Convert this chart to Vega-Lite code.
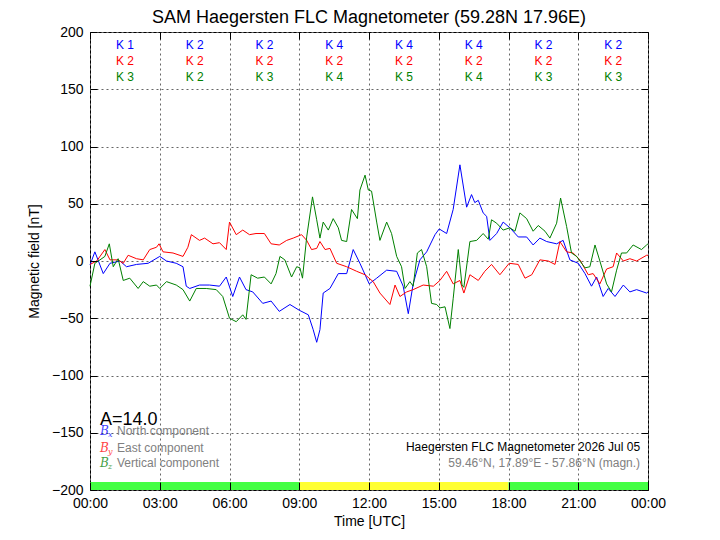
{
  "$schema": "https://vega.github.io/schema/vega-lite/v6.json",
  "width": 558,
  "height": 458,
  "autosize": {"type": "none"},
  "padding": {"left": 90, "top": 32, "right": 72, "bottom": 50},
  "background": "white",
  "config": {
    "font": "Liberation Sans",
    "view": {"stroke": "black", "strokeWidth": 1},
    "axis": {
      "labelFont": "Liberation Sans",
      "labelFontSize": 14,
      "labelColor": "black",
      "labelFlush": false,
      "titleFont": "Liberation Sans",
      "titleFontSize": 14,
      "titleFontWeight": "normal",
      "titleColor": "black",
      "domainColor": "black",
      "tickColor": "black",
      "gridColor": "#666666",
      "gridDash": [2, 3],
      "gridOpacity": 1,
      "gridWidth": 1
    }
  },
  "title": {
    "text": "SAM Haegersten FLC Magnetometer (59.28N 17.96E)",
    "fontSize": 18,
    "fontWeight": "normal",
    "font": "Liberation Sans",
    "color": "black",
    "frame": "group",
    "anchor": "middle",
    "offset": -2
  },
  "datasets": {
    "band": [
      {"h0": 0, "h1": 9, "period": "night"},
      {"h0": 9, "h1": 18, "period": "day"},
      {"h0": 18, "h1": 24, "period": "night"}
    ],
    "klab": [
      {"h": 1.5, "c": "X", "v": 189, "k": "K 1"},
      {"h": 4.5, "c": "X", "v": 189, "k": "K 2"},
      {"h": 7.5, "c": "X", "v": 189, "k": "K 2"},
      {"h": 10.5, "c": "X", "v": 189, "k": "K 4"},
      {"h": 13.5, "c": "X", "v": 189, "k": "K 4"},
      {"h": 16.5, "c": "X", "v": 189, "k": "K 4"},
      {"h": 19.5, "c": "X", "v": 189, "k": "K 2"},
      {"h": 22.5, "c": "X", "v": 189, "k": "K 2"},
      {"h": 1.5, "c": "Y", "v": 175, "k": "K 2"},
      {"h": 4.5, "c": "Y", "v": 175, "k": "K 2"},
      {"h": 7.5, "c": "Y", "v": 175, "k": "K 2"},
      {"h": 10.5, "c": "Y", "v": 175, "k": "K 2"},
      {"h": 13.5, "c": "Y", "v": 175, "k": "K 2"},
      {"h": 16.5, "c": "Y", "v": 175, "k": "K 2"},
      {"h": 19.5, "c": "Y", "v": 175, "k": "K 2"},
      {"h": 22.5, "c": "Y", "v": 175, "k": "K 2"},
      {"h": 1.5, "c": "Z", "v": 161, "k": "K 3"},
      {"h": 4.5, "c": "Z", "v": 161, "k": "K 2"},
      {"h": 7.5, "c": "Z", "v": 161, "k": "K 3"},
      {"h": 10.5, "c": "Z", "v": 161, "k": "K 4"},
      {"h": 13.5, "c": "Z", "v": 161, "k": "K 5"},
      {"h": 16.5, "c": "Z", "v": 161, "k": "K 4"},
      {"h": 19.5, "c": "Z", "v": 161, "k": "K 3"},
      {"h": 22.5, "c": "Z", "v": 161, "k": "K 3"}
    ],
    "leg": [
      {"c": "X", "sub": "x", "lab": "North component", "v": -148.5},
      {"c": "Y", "sub": "y", "lab": "East component", "v": -163},
      {"c": "Z", "sub": "z", "lab": "Vertical component", "v": -176.7}
    ],
    "notes": [
      {"t": "Haegersten FLC Magnetometer 2026 Jul 05", "kind": "main", "v": -162.4},
      {"t": "59.46°N, 17.89°E - 57.86°N (magn.)", "kind": "sub", "v": -176.4}
    ],
    "mag": [
      {"h": 0.0, "c": "X", "v": -3.5}, {"h": 0.21, "c": "X", "v": 8}, {"h": 0.57, "c": "X", "v": -11}, {"h": 0.86, "c": "X", "v": -2},
      {"h": 1.29, "c": "X", "v": 0}, {"h": 1.57, "c": "X", "v": -5}, {"h": 2.0, "c": "X", "v": -3}, {"h": 2.5, "c": "X", "v": -2},
      {"h": 3.0, "c": "X", "v": 4}, {"h": 3.29, "c": "X", "v": 0}, {"h": 3.71, "c": "X", "v": -2}, {"h": 4.0, "c": "X", "v": -5},
      {"h": 4.14, "c": "X", "v": -22}, {"h": 4.29, "c": "X", "v": -24}, {"h": 4.71, "c": "X", "v": -21}, {"h": 5.14, "c": "X", "v": -21},
      {"h": 5.57, "c": "X", "v": -22}, {"h": 5.86, "c": "X", "v": -14}, {"h": 6.14, "c": "X", "v": -31}, {"h": 6.43, "c": "X", "v": -14},
      {"h": 6.71, "c": "X", "v": -25}, {"h": 7.0, "c": "X", "v": -27}, {"h": 7.43, "c": "X", "v": -37}, {"h": 7.79, "c": "X", "v": -35},
      {"h": 8.14, "c": "X", "v": -44}, {"h": 8.6, "c": "X", "v": -38}, {"h": 9.0, "c": "X", "v": -43}, {"h": 9.39, "c": "X", "v": -47},
      {"h": 9.6, "c": "X", "v": -60}, {"h": 9.75, "c": "X", "v": -71}, {"h": 9.89, "c": "X", "v": -60}, {"h": 10.03, "c": "X", "v": -28},
      {"h": 10.32, "c": "X", "v": -24}, {"h": 10.68, "c": "X", "v": -11}, {"h": 11.04, "c": "X", "v": -11}, {"h": 11.32, "c": "X", "v": 10},
      {"h": 11.61, "c": "X", "v": -2}, {"h": 12.01, "c": "X", "v": -20}, {"h": 12.33, "c": "X", "v": -15}, {"h": 12.76, "c": "X", "v": -8},
      {"h": 13.19, "c": "X", "v": -9}, {"h": 13.47, "c": "X", "v": -22}, {"h": 13.69, "c": "X", "v": -46}, {"h": 13.9, "c": "X", "v": -20},
      {"h": 14.19, "c": "X", "v": 1}, {"h": 14.48, "c": "X", "v": 8}, {"h": 14.84, "c": "X", "v": 23}, {"h": 15.02, "c": "X", "v": 28},
      {"h": 15.34, "c": "X", "v": 24}, {"h": 15.62, "c": "X", "v": 45}, {"h": 15.91, "c": "X", "v": 84}, {"h": 16.2, "c": "X", "v": 47},
      {"h": 16.41, "c": "X", "v": 58}, {"h": 16.55, "c": "X", "v": 51}, {"h": 16.7, "c": "X", "v": 53}, {"h": 16.91, "c": "X", "v": 42},
      {"h": 17.06, "c": "X", "v": 39}, {"h": 17.2, "c": "X", "v": 18}, {"h": 17.49, "c": "X", "v": 24}, {"h": 17.77, "c": "X", "v": 34},
      {"h": 18.06, "c": "X", "v": 29}, {"h": 18.42, "c": "X", "v": 21}, {"h": 18.78, "c": "X", "v": 21}, {"h": 19.06, "c": "X", "v": 14},
      {"h": 19.35, "c": "X", "v": 20}, {"h": 19.64, "c": "X", "v": 17}, {"h": 20.07, "c": "X", "v": 15}, {"h": 20.35, "c": "X", "v": 18},
      {"h": 20.64, "c": "X", "v": 1}, {"h": 21.0, "c": "X", "v": -2}, {"h": 21.29, "c": "X", "v": -11}, {"h": 21.57, "c": "X", "v": -22},
      {"h": 21.79, "c": "X", "v": -14}, {"h": 22.07, "c": "X", "v": -31}, {"h": 22.29, "c": "X", "v": -24}, {"h": 22.58, "c": "X", "v": -31},
      {"h": 22.94, "c": "X", "v": -21}, {"h": 23.22, "c": "X", "v": -27}, {"h": 23.51, "c": "X", "v": -25}, {"h": 23.94, "c": "X", "v": -28},
      {"h": 24.0, "c": "X", "v": -27},
      {"h": 0.0, "c": "Y", "v": -3}, {"h": 0.29, "c": "Y", "v": 0}, {"h": 0.64, "c": "Y", "v": 10}, {"h": 0.86, "c": "Y", "v": 1},
      {"h": 1.21, "c": "Y", "v": 1}, {"h": 1.43, "c": "Y", "v": -2}, {"h": 1.64, "c": "Y", "v": 5}, {"h": 2.0, "c": "Y", "v": 2},
      {"h": 2.29, "c": "Y", "v": 1}, {"h": 2.57, "c": "Y", "v": 10}, {"h": 2.86, "c": "Y", "v": 12}, {"h": 2.97, "c": "Y", "v": 15},
      {"h": 3.14, "c": "Y", "v": 8}, {"h": 3.57, "c": "Y", "v": 7}, {"h": 4.0, "c": "Y", "v": 4}, {"h": 4.21, "c": "Y", "v": 12},
      {"h": 4.36, "c": "Y", "v": 23}, {"h": 4.71, "c": "Y", "v": 18}, {"h": 4.93, "c": "Y", "v": 20}, {"h": 5.29, "c": "Y", "v": 15},
      {"h": 5.57, "c": "Y", "v": 16}, {"h": 5.86, "c": "Y", "v": 10}, {"h": 6.0, "c": "Y", "v": 34}, {"h": 6.29, "c": "Y", "v": 23},
      {"h": 6.57, "c": "Y", "v": 27}, {"h": 6.86, "c": "Y", "v": 23}, {"h": 7.14, "c": "Y", "v": 24}, {"h": 7.5, "c": "Y", "v": 24},
      {"h": 7.79, "c": "Y", "v": 15}, {"h": 8.14, "c": "Y", "v": 14}, {"h": 8.46, "c": "Y", "v": 18}, {"h": 8.74, "c": "Y", "v": 20},
      {"h": 9.1, "c": "Y", "v": 23}, {"h": 9.32, "c": "Y", "v": 18}, {"h": 9.53, "c": "Y", "v": 10}, {"h": 9.75, "c": "Y", "v": 11},
      {"h": 9.89, "c": "Y", "v": 17}, {"h": 10.11, "c": "Y", "v": 10}, {"h": 10.32, "c": "Y", "v": 11}, {"h": 10.61, "c": "Y", "v": -2},
      {"h": 11.04, "c": "Y", "v": -5}, {"h": 11.47, "c": "Y", "v": -9}, {"h": 11.83, "c": "Y", "v": -12}, {"h": 12.18, "c": "Y", "v": -18},
      {"h": 12.47, "c": "Y", "v": -28}, {"h": 12.9, "c": "Y", "v": -38}, {"h": 13.12, "c": "Y", "v": -21}, {"h": 13.33, "c": "Y", "v": -31},
      {"h": 13.62, "c": "Y", "v": -27}, {"h": 13.9, "c": "Y", "v": -25}, {"h": 14.33, "c": "Y", "v": -21}, {"h": 14.77, "c": "Y", "v": -22},
      {"h": 15.05, "c": "Y", "v": -17}, {"h": 15.34, "c": "Y", "v": -9}, {"h": 15.62, "c": "Y", "v": -20}, {"h": 15.91, "c": "Y", "v": -17},
      {"h": 16.08, "c": "Y", "v": -28}, {"h": 16.34, "c": "Y", "v": -12}, {"h": 16.7, "c": "Y", "v": -17}, {"h": 16.98, "c": "Y", "v": -9},
      {"h": 17.27, "c": "Y", "v": -3}, {"h": 17.63, "c": "Y", "v": -12}, {"h": 18.03, "c": "Y", "v": -2}, {"h": 18.42, "c": "Y", "v": -3},
      {"h": 18.71, "c": "Y", "v": -15}, {"h": 19.0, "c": "Y", "v": -12}, {"h": 19.35, "c": "Y", "v": 1}, {"h": 19.71, "c": "Y", "v": 0},
      {"h": 20.0, "c": "Y", "v": -3}, {"h": 20.21, "c": "Y", "v": 17}, {"h": 20.5, "c": "Y", "v": 8}, {"h": 20.78, "c": "Y", "v": 7},
      {"h": 21.07, "c": "Y", "v": 1}, {"h": 21.43, "c": "Y", "v": -12}, {"h": 21.64, "c": "Y", "v": -11}, {"h": 21.93, "c": "Y", "v": -20},
      {"h": 22.22, "c": "Y", "v": -7}, {"h": 22.5, "c": "Y", "v": -5}, {"h": 22.65, "c": "Y", "v": 7}, {"h": 22.94, "c": "Y", "v": 0},
      {"h": 23.22, "c": "Y", "v": 2}, {"h": 23.51, "c": "Y", "v": 0}, {"h": 23.94, "c": "Y", "v": 5}, {"h": 24.0, "c": "Y", "v": 5},
      {"h": 0.0, "c": "Z", "v": -22}, {"h": 0.21, "c": "Z", "v": -2}, {"h": 0.43, "c": "Z", "v": 1}, {"h": 0.64, "c": "Z", "v": 4},
      {"h": 0.83, "c": "Z", "v": 15}, {"h": 1.0, "c": "Z", "v": -5}, {"h": 1.21, "c": "Z", "v": 2}, {"h": 1.43, "c": "Z", "v": -17},
      {"h": 1.71, "c": "Z", "v": -15}, {"h": 2.07, "c": "Z", "v": -24}, {"h": 2.29, "c": "Z", "v": -18}, {"h": 2.57, "c": "Z", "v": -22},
      {"h": 2.86, "c": "Z", "v": -21}, {"h": 3.0, "c": "Z", "v": -24}, {"h": 3.29, "c": "Z", "v": -18}, {"h": 3.71, "c": "Z", "v": -21},
      {"h": 4.0, "c": "Z", "v": -25}, {"h": 4.29, "c": "Z", "v": -35}, {"h": 4.57, "c": "Z", "v": -24}, {"h": 5.0, "c": "Z", "v": -24},
      {"h": 5.43, "c": "Z", "v": -25}, {"h": 5.71, "c": "Z", "v": -31}, {"h": 6.0, "c": "Z", "v": -50}, {"h": 6.29, "c": "Z", "v": -53},
      {"h": 6.57, "c": "Z", "v": -47}, {"h": 6.71, "c": "Z", "v": -51}, {"h": 6.93, "c": "Z", "v": -12}, {"h": 7.21, "c": "Z", "v": -15},
      {"h": 7.5, "c": "Z", "v": -14}, {"h": 7.79, "c": "Z", "v": -20}, {"h": 8.0, "c": "Z", "v": -11}, {"h": 8.17, "c": "Z", "v": 4},
      {"h": 8.38, "c": "Z", "v": 1}, {"h": 8.67, "c": "Z", "v": -14}, {"h": 8.89, "c": "Z", "v": -5}, {"h": 9.03, "c": "Z", "v": -6},
      {"h": 9.14, "c": "Z", "v": -15}, {"h": 9.32, "c": "Z", "v": 21}, {"h": 9.57, "c": "Z", "v": 56}, {"h": 9.75, "c": "Z", "v": 36},
      {"h": 9.89, "c": "Z", "v": 20}, {"h": 10.03, "c": "Z", "v": 34}, {"h": 10.25, "c": "Z", "v": 27}, {"h": 10.46, "c": "Z", "v": 37},
      {"h": 10.68, "c": "Z", "v": 29}, {"h": 10.82, "c": "Z", "v": 18}, {"h": 11.04, "c": "Z", "v": 17}, {"h": 11.25, "c": "Z", "v": 45},
      {"h": 11.5, "c": "Z", "v": 37}, {"h": 11.61, "c": "Z", "v": 62}, {"h": 11.83, "c": "Z", "v": 75}, {"h": 11.97, "c": "Z", "v": 62},
      {"h": 12.11, "c": "Z", "v": 61}, {"h": 12.33, "c": "Z", "v": 34}, {"h": 12.47, "c": "Z", "v": 18}, {"h": 12.76, "c": "Z", "v": 34},
      {"h": 12.97, "c": "Z", "v": 24}, {"h": 13.19, "c": "Z", "v": 4}, {"h": 13.4, "c": "Z", "v": -5}, {"h": 13.55, "c": "Z", "v": -24},
      {"h": 13.76, "c": "Z", "v": -18}, {"h": 13.9, "c": "Z", "v": -22}, {"h": 14.08, "c": "Z", "v": 7}, {"h": 14.26, "c": "Z", "v": 10},
      {"h": 14.48, "c": "Z", "v": -5}, {"h": 14.69, "c": "Z", "v": -37}, {"h": 14.91, "c": "Z", "v": -38}, {"h": 15.05, "c": "Z", "v": -41},
      {"h": 15.27, "c": "Z", "v": -40}, {"h": 15.48, "c": "Z", "v": -59}, {"h": 15.62, "c": "Z", "v": -33}, {"h": 15.84, "c": "Z", "v": 10},
      {"h": 16.0, "c": "Z", "v": -21}, {"h": 16.08, "c": "Z", "v": -23}, {"h": 16.34, "c": "Z", "v": 17}, {"h": 16.63, "c": "Z", "v": 18},
      {"h": 16.91, "c": "Z", "v": 24}, {"h": 17.13, "c": "Z", "v": 19}, {"h": 17.27, "c": "Z", "v": 36}, {"h": 17.49, "c": "Z", "v": 33},
      {"h": 17.77, "c": "Z", "v": 27}, {"h": 18.06, "c": "Z", "v": 29}, {"h": 18.28, "c": "Z", "v": 26}, {"h": 18.49, "c": "Z", "v": 42},
      {"h": 18.78, "c": "Z", "v": 37}, {"h": 19.06, "c": "Z", "v": 26}, {"h": 19.28, "c": "Z", "v": 31}, {"h": 19.57, "c": "Z", "v": 26},
      {"h": 19.78, "c": "Z", "v": 20}, {"h": 20.07, "c": "Z", "v": 33}, {"h": 20.24, "c": "Z", "v": 55}, {"h": 20.5, "c": "Z", "v": 30},
      {"h": 20.71, "c": "Z", "v": 7}, {"h": 20.93, "c": "Z", "v": 4}, {"h": 21.29, "c": "Z", "v": -6}, {"h": 21.5, "c": "Z", "v": -5},
      {"h": 21.72, "c": "Z", "v": 14}, {"h": 21.93, "c": "Z", "v": 0}, {"h": 22.22, "c": "Z", "v": -20}, {"h": 22.43, "c": "Z", "v": -27},
      {"h": 22.65, "c": "Z", "v": -8}, {"h": 22.86, "c": "Z", "v": 7}, {"h": 23.08, "c": "Z", "v": 7}, {"h": 23.36, "c": "Z", "v": 14},
      {"h": 23.72, "c": "Z", "v": 10}, {"h": 23.94, "c": "Z", "v": 14}, {"h": 24.0, "c": "Z", "v": 15}
    ]
  },
  "layer": [
    {
      "data": {"name": "mag"},
      "mark": {"type": "line", "strokeWidth": 1, "interpolate": "linear"},
      "encoding": {
        "x": {
          "field": "h", "type": "quantitative",
          "scale": {"domain": [0, 24], "nice": false, "zero": false},
          "axis": {"orient": "top", "values": [0, 3, 6, 9, 12, 15, 18, 21, 24], "labels": false, "title": null, "grid": true, "ticks": true, "tickSize": -7, "domain": false}
        },
        "y": {
          "field": "v", "type": "quantitative",
          "scale": {"domain": [-200, 200], "nice": false, "zero": false},
          "axis": {"orient": "right", "values": [-200, -150, -100, -50, 0, 50, 100, 150, 200], "labels": false, "title": null, "grid": true, "ticks": true, "tickSize": -7, "domain": false}
        },
        "color": {"field": "c", "type": "nominal", "scale": {"domain": ["X", "Y", "Z"], "range": ["#0000ff", "#ff0000", "#008000"]}, "legend": null}
      }
    },
    {
      "data": {"name": "band"},
      "mark": {"type": "rect"},
      "encoding": {
        "x": {
          "field": "h0", "type": "quantitative",
          "axis": {"orient": "bottom", "values": [0, 3, 6, 9, 12, 15, 18, 21, 24], "labelExpr": "(datum.value % 24 < 10 ? '0' : '') + (datum.value % 24) + ':00'", "title": "Time [UTC]", "grid": false, "tickSize": -8, "labelPadding": 14, "titlePadding": 4, "zindex": 1, "domain": false}
        },
        "x2": {"field": "h1"},
        "y": {
          "datum": -200, "type": "quantitative",
          "axis": {"orient": "left", "values": [-200, -150, -100, -50, 0, 50, 100, 150, 200], "title": "Magnetic field [nT]", "grid": false, "tickSize": -7, "labelPadding": 14, "titlePadding": 10, "zindex": 1, "domain": false}
        },
        "y2": {"datum": -193},
        "fill": {"field": "period", "type": "nominal", "scale": {"domain": ["night", "day"], "range": ["#44ff44", "#ffff33"]}, "legend": null}
      }
    },
    {
      "data": {"name": "klab"},
      "mark": {"type": "text", "fontSize": 12, "align": "center", "baseline": "middle"},
      "encoding": {
        "x": {"field": "h", "type": "quantitative", "axis": null},
        "y": {"field": "v", "type": "quantitative", "axis": null},
        "text": {"field": "k"},
        "color": {"field": "c", "type": "nominal", "legend": null}
      }
    },
    {
      "data": {"name": "leg"},
      "mark": {"type": "text", "font": "DejaVu Serif", "fontSize": 12, "fontStyle": "italic", "align": "left", "baseline": "middle", "opacity": 0.75},
      "encoding": {
        "x": {"datum": 0.43, "type": "quantitative", "axis": null},
        "y": {"field": "v", "type": "quantitative", "axis": null},
        "text": {"value": "B"},
        "color": {"field": "c", "type": "nominal", "legend": null}
      }
    },
    {
      "data": {"name": "leg"},
      "mark": {"type": "text", "font": "DejaVu Serif", "fontSize": 8, "fontStyle": "italic", "align": "left", "baseline": "middle", "dx": 8, "dy": 4, "opacity": 0.75},
      "encoding": {
        "x": {"datum": 0.43, "type": "quantitative", "axis": null},
        "y": {"field": "v", "type": "quantitative", "axis": null},
        "text": {"field": "sub"},
        "color": {"field": "c", "type": "nominal", "legend": null}
      }
    },
    {
      "data": {"name": "leg"},
      "mark": {"type": "text", "fontSize": 12, "align": "left", "baseline": "middle", "color": "#808080"},
      "encoding": {
        "x": {"datum": 1.16, "type": "quantitative", "axis": null},
        "y": {"field": "v", "type": "quantitative", "axis": null},
        "text": {"field": "lab"}
      }
    },
    {
      "data": {"values": [{"t": "A=14.0"}]},
      "mark": {"type": "text", "fontSize": 18, "align": "left", "baseline": "middle", "color": "black"},
      "encoding": {
        "x": {"datum": 0.43, "type": "quantitative", "axis": null},
        "y": {"datum": -138.9, "type": "quantitative", "axis": null},
        "text": {"field": "t"}
      }
    },
    {
      "data": {"name": "notes"},
      "transform": [{"filter": "datum.kind == 'main'"}],
      "mark": {"type": "text", "fontSize": 12, "align": "right", "baseline": "middle", "color": "#000000"},
      "encoding": {
        "x": {"datum": 23.66, "type": "quantitative", "axis": null},
        "y": {"field": "v", "type": "quantitative", "axis": null},
        "text": {"field": "t"}
      }
    },
    {
      "data": {"name": "notes"},
      "transform": [{"filter": "datum.kind == 'sub'"}],
      "mark": {"type": "text", "fontSize": 12, "align": "right", "baseline": "middle", "color": "#808080"},
      "encoding": {
        "x": {"datum": 23.66, "type": "quantitative", "axis": null},
        "y": {"field": "v", "type": "quantitative", "axis": null},
        "text": {"field": "t"}
      }
    }
  ],
  "resolve": {"axis": {"x": "independent", "y": "independent"}}
}
